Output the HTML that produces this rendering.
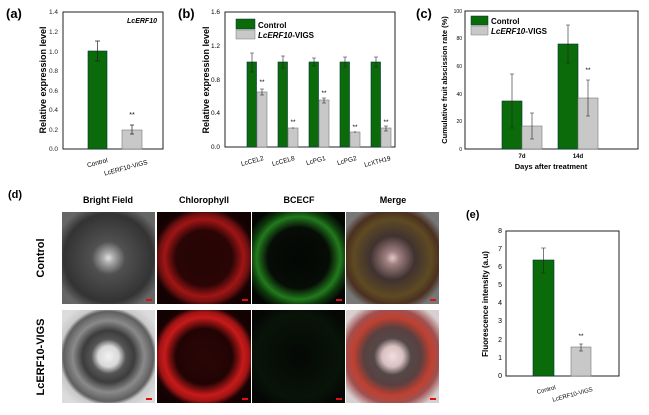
<!DOCTYPE html>
<html><head><meta charset="utf-8"><style>
html,body{margin:0;padding:0;background:#fff}
svg{display:block;font-family:"Liberation Sans",Arial,sans-serif}
</style></head><body>
<svg width="649" height="415" viewBox="0 0 649 415" xmlns="http://www.w3.org/2000/svg">
<defs>
<radialGradient id="bf1" cx="0.5" cy="0.5" r="0.6">
<stop offset="0" stop-color="#e0e0e0"/><stop offset="0.1" stop-color="#a8a8a8"/><stop offset="0.3" stop-color="#505050"/><stop offset="0.8" stop-color="#333"/><stop offset="1" stop-color="#666"/></radialGradient>
<radialGradient id="bf2" cx="0.5" cy="0.5" r="0.62">
<stop offset="0" stop-color="#f2f2f2"/><stop offset="0.18" stop-color="#d8d8d8"/><stop offset="0.3" stop-color="#555"/><stop offset="0.45" stop-color="#3c3c3c"/><stop offset="0.62" stop-color="#8a8a8a"/><stop offset="0.78" stop-color="#5f5f5f"/><stop offset="0.85" stop-color="#c9c9c9"/><stop offset="1" stop-color="#dcdcdc"/></radialGradient>
<radialGradient id="ch1" cx="0.5" cy="0.5" r="0.6">
<stop offset="0" stop-color="#250505"/><stop offset="0.5" stop-color="#2a0505"/><stop offset="0.7" stop-color="#a01515"/><stop offset="0.8" stop-color="#701010"/><stop offset="0.9" stop-color="#1a0303"/><stop offset="1" stop-color="#120202"/></radialGradient>
<radialGradient id="ch2" cx="0.5" cy="0.5" r="0.6">
<stop offset="0" stop-color="#2a0606"/><stop offset="0.5" stop-color="#220404"/><stop offset="0.7" stop-color="#c81a1a"/><stop offset="0.8" stop-color="#a01414"/><stop offset="0.9" stop-color="#1a0303"/><stop offset="1" stop-color="#120202"/></radialGradient>
<radialGradient id="gr1" cx="0.5" cy="0.5" r="0.6">
<stop offset="0" stop-color="#040604"/><stop offset="0.55" stop-color="#060c06"/><stop offset="0.75" stop-color="#227a1c"/><stop offset="0.86" stop-color="#0e3a0c"/><stop offset="1" stop-color="#040604"/></radialGradient>
<radialGradient id="gr2" cx="0.5" cy="0.5" r="0.6">
<stop offset="0" stop-color="#050705"/><stop offset="0.75" stop-color="#081408"/><stop offset="1" stop-color="#050705"/></radialGradient>
<radialGradient id="mg1" cx="0.5" cy="0.5" r="0.6">
<stop offset="0" stop-color="#e0c8c8"/><stop offset="0.12" stop-color="#a08080"/><stop offset="0.4" stop-color="#403230"/><stop offset="0.7" stop-color="#5e4a22"/><stop offset="0.85" stop-color="#4a3020"/><stop offset="1" stop-color="#777"/></radialGradient>
<radialGradient id="mg2" cx="0.5" cy="0.5" r="0.62">
<stop offset="0" stop-color="#f0dede"/><stop offset="0.18" stop-color="#d8c0c0"/><stop offset="0.32" stop-color="#554848"/><stop offset="0.5" stop-color="#5a4040"/><stop offset="0.68" stop-color="#c04030"/><stop offset="0.82" stop-color="#a05050"/><stop offset="1" stop-color="#d8d0d0"/></radialGradient>
</defs>

<!-- (a) -->
<text x="6" y="18" font-size="13" font-weight="bold">(a)</text>
<rect x="63" y="12" width="100" height="137" fill="none" stroke="#222" stroke-width="1"/>
<g font-size="6.5" text-anchor="end" fill="#222">
<text x="58" y="151">0.0</text><text x="58" y="132">0.2</text><text x="58" y="112">0.4</text><text x="58" y="93">0.6</text><text x="58" y="73">0.8</text><text x="58" y="54">1.0</text><text x="58" y="34">1.2</text><text x="58" y="14">1.4</text>
</g>
<text x="157" y="23" font-size="7" font-weight="bold" font-style="italic" text-anchor="end">LcERF10</text>
<rect x="88" y="51" width="19" height="98" fill="#0b6b0b" stroke="#033" stroke-width="0.6"/>
<rect x="122" y="130" width="20" height="19" fill="#c8c8c8" stroke="#777" stroke-width="0.6"/>
<path d="M97.5 41V61M95 41H100M95 61H100M132 125V134M130 125H134M130 134H134" stroke="#222" stroke-width="0.7"/>
<text x="132" y="117" font-size="7" text-anchor="middle">**</text>
<text x="46" y="80" font-size="9" font-weight="bold" text-anchor="middle" transform="rotate(-90 46 80)">Relative expression level</text>
<g font-size="6.5" text-anchor="end">
<text x="108" y="162" transform="rotate(-15 108 162)">Control</text>
<text x="148" y="164" transform="rotate(-15 148 164)">LcERF10-VIGS</text>
</g>

<!-- (b) -->
<text x="178" y="18" font-size="13" font-weight="bold">(b)</text>
<rect x="225" y="12" width="170" height="135" fill="none" stroke="#222" stroke-width="1"/>
<g font-size="6.5" text-anchor="end">
<text x="220" y="149">0.0</text><text x="220" y="115">0.4</text><text x="220" y="82">0.8</text><text x="220" y="48">1.2</text><text x="220" y="14">1.6</text>
</g>
<text x="209" y="80" font-size="9" font-weight="bold" text-anchor="middle" transform="rotate(-90 209 80)">Relative expression level</text>
<rect x="236" y="19" width="19" height="10" fill="#0b6b0b" stroke="#033" stroke-width="0.5"/>
<rect x="236" y="30" width="19" height="9" fill="#c8c8c8" stroke="#777" stroke-width="0.5"/>
<text x="258" y="28" font-size="8" font-weight="bold">Control</text>
<text x="258" y="38" font-size="8" font-weight="bold"><tspan font-style="italic">LcERF10</tspan>-VIGS</text>
<g stroke-width="0.6">
<rect x="247" y="62" width="9.5" height="85" fill="#0b6b0b" stroke="#033"/>
<rect x="257" y="92" width="10" height="55" fill="#c8c8c8" stroke="#777"/>
<rect x="278" y="62" width="9.5" height="85" fill="#0b6b0b" stroke="#033"/>
<rect x="288" y="128" width="10" height="19" fill="#c8c8c8" stroke="#777"/>
<rect x="309" y="62" width="9.5" height="85" fill="#0b6b0b" stroke="#033"/>
<rect x="319" y="100" width="10" height="47" fill="#c8c8c8" stroke="#777"/>
<rect x="340" y="62" width="9.5" height="85" fill="#0b6b0b" stroke="#033"/>
<rect x="350" y="132" width="10" height="15" fill="#c8c8c8" stroke="#777"/>
<rect x="371" y="62" width="9.5" height="85" fill="#0b6b0b" stroke="#033"/>
<rect x="381" y="128" width="10" height="19" fill="#c8c8c8" stroke="#777"/>
</g>
<path d="M252 53V72M250 53H254M250 72H254M262 89V95M260 89H264M260 95H264M283 56V68M281 56H285M281 68H285M293 127V129M314 58V66M312 58H316M312 66H316M324 98V103M322 98H326M322 103H326M345 57V67M343 57H347M343 67H347M355 131V133M376 57V67M374 57H378M374 67H378M386 126V131M384 126H388M384 131H388" stroke="#222" stroke-width="0.6"/>
<g font-size="6.5" text-anchor="middle"><text x="262" y="84">**</text><text x="293" y="124">**</text><text x="324" y="95">**</text><text x="355" y="129">**</text><text x="386" y="124">**</text></g>
<g font-size="6.5" text-anchor="end">
<text x="264" y="160" transform="rotate(-15 264 160)">LcCEL2</text>
<text x="295" y="160" transform="rotate(-15 295 160)">LcCEL8</text>
<text x="326" y="160" transform="rotate(-15 326 160)">LcPG1</text>
<text x="357" y="160" transform="rotate(-15 357 160)">LcPG2</text>
<text x="391" y="160" transform="rotate(-15 391 160)">LcXTH19</text>
</g>

<!-- (c) -->
<text x="416" y="18" font-size="13" font-weight="bold">(c)</text>
<rect x="465" y="11" width="173" height="138" fill="none" stroke="#222" stroke-width="1"/>
<g font-size="5" text-anchor="end">
<text x="462" y="151">0</text><text x="462" y="123">20</text><text x="462" y="96">40</text><text x="462" y="68">60</text><text x="462" y="40">80</text><text x="462" y="13">100</text>
</g>
<text x="447" y="80" font-size="7.5" font-weight="bold" text-anchor="middle" transform="rotate(-90 447 80)">Cumulative fruit abscission rate (%)</text>
<rect x="471" y="16" width="17" height="9" fill="#0b6b0b" stroke="#033" stroke-width="0.5"/>
<rect x="471" y="26" width="17" height="9" fill="#c8c8c8" stroke="#777" stroke-width="0.5"/>
<text x="491" y="24" font-size="8" font-weight="bold">Control</text>
<text x="491" y="34" font-size="8" font-weight="bold"><tspan font-style="italic">LcERF10</tspan>-VIGS</text>
<g stroke-width="0.6">
<rect x="502" y="101" width="20" height="48" fill="#0b6b0b" stroke="#033"/>
<rect x="522" y="126" width="20" height="23" fill="#c8c8c8" stroke="#777"/>
<rect x="558" y="44" width="20" height="105" fill="#0b6b0b" stroke="#033"/>
<rect x="578" y="98" width="20" height="51" fill="#c8c8c8" stroke="#777"/>
</g>
<path d="M512 74V128M510 74H514M510 128H514M532 113V139M530 113H534M530 139H534M568 25V63M566 25H570M566 63H570M588 80V116M586 80H590M586 116H590" stroke="#222" stroke-width="0.6"/>
<text x="588" y="72" font-size="6.5" text-anchor="middle">**</text>
<g font-size="6" font-weight="bold" text-anchor="middle"><text x="522" y="158">7d</text><text x="578" y="158">14d</text></g>
<text x="551" y="169" font-size="7.5" font-weight="bold" text-anchor="middle">Days after treatment</text>

<!-- (d) -->
<text x="8" y="198" font-size="11" font-weight="bold">(d)</text>
<g font-size="9" font-weight="bold" text-anchor="middle">
<text x="108" y="203">Bright Field</text><text x="204" y="203">Chlorophyll</text><text x="299" y="203">BCECF</text><text x="393" y="203">Merge</text>
</g>
<text x="44" y="258" font-size="11" font-weight="bold" text-anchor="middle" transform="rotate(-90 44 258)">Control</text>
<text x="44" y="357" font-size="11" font-weight="bold" text-anchor="middle" transform="rotate(-90 44 357)">LcERF10-VIGS</text>
<rect x="62" y="212" width="93" height="92" fill="url(#bf1)"/>
<rect x="157" y="212" width="94" height="92" fill="url(#ch1)"/>
<rect x="252" y="212" width="93" height="92" fill="url(#gr1)"/>
<rect x="346" y="212" width="93" height="92" fill="url(#mg1)"/>
<rect x="62" y="310" width="93" height="93" fill="url(#bf2)"/>
<rect x="157" y="310" width="94" height="93" fill="url(#ch2)"/>
<rect x="252" y="310" width="93" height="93" fill="url(#gr2)"/>
<rect x="346" y="310" width="93" height="93" fill="url(#mg2)"/>
<g fill="#e01010">
<rect x="146" y="299" width="6" height="2"/><rect x="242" y="299" width="6" height="2"/><rect x="336" y="299" width="6" height="2"/><rect x="430" y="299" width="6" height="2"/>
<rect x="146" y="398" width="6" height="2"/><rect x="242" y="398" width="6" height="2"/><rect x="336" y="398" width="6" height="2"/><rect x="430" y="398" width="6" height="2"/>
</g>

<!-- (e) -->
<text x="466" y="218" font-size="11" font-weight="bold">(e)</text>
<rect x="506" y="231" width="113" height="145" fill="none" stroke="#222" stroke-width="1"/>
<g font-size="7" text-anchor="end">
<text x="502" y="378">0</text><text x="502" y="360">1</text><text x="502" y="342">2</text><text x="502" y="323">3</text><text x="502" y="305">4</text><text x="502" y="287">5</text><text x="502" y="269">6</text><text x="502" y="251">7</text><text x="502" y="233">8</text>
</g>
<text x="488" y="304" font-size="8" font-weight="bold" text-anchor="middle" transform="rotate(-90 488 304)">Fluorescence intensity (a.u)</text>
<rect x="533" y="260" width="21" height="116" fill="#0b6b0b" stroke="#033" stroke-width="0.6"/>
<rect x="571" y="347" width="20" height="29" fill="#c8c8c8" stroke="#777" stroke-width="0.6"/>
<path d="M543.5 248V273M541 248H546M541 273H546M581 344V351M579 344H583M579 351H583" stroke="#222" stroke-width="0.6"/>
<text x="581" y="338" font-size="6.5" text-anchor="middle">**</text>
<g font-size="6" text-anchor="end">
<text x="556" y="389" transform="rotate(-15 556 389)">Control</text>
<text x="593" y="391" transform="rotate(-15 593 391)">LcERF10-VIGS</text>
</g>
</svg>
</body></html>
